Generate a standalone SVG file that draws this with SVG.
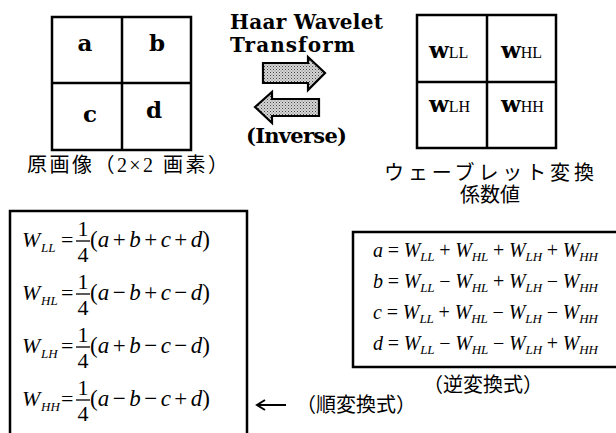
<svg xmlns="http://www.w3.org/2000/svg" width="616" height="433" viewBox="0 0 616 433">
<style>
.ln{fill:none;stroke:#000;stroke-width:2.5}
.cell{fill:#fff;stroke:#000;stroke-width:2.5}
.bd{font-family:"DejaVu Serif","Liberation Serif",serif;font-weight:bold;fill:#000}
.sm{font-family:"Liberation Serif",serif;font-size:16px;fill:#000}
.cj{font-family:"Liberation Serif","Noto Sans CJK JP",sans-serif;font-size:20px;fill:#000}
.m{font-family:"Liberation Serif",serif;font-size:22px;fill:#000}
.p{font-family:"Liberation Serif",serif;font-size:23px;fill:#000}
.r{font-family:"Liberation Serif",serif;font-size:20px;fill:#000}
.i{font-style:italic}
.sb{font-family:"Liberation Serif",serif;font-style:italic;font-size:13px}
.bar{stroke:#000;stroke-width:1.3}
.blk{fill:url(#dots);stroke:#000;stroke-width:2.2;stroke-linejoin:miter}
</style>
<defs>
<pattern id="dots" width="3" height="3" patternUnits="userSpaceOnUse">
<rect width="3" height="3" fill="#d6d6d6"/><rect width="1" height="1" fill="#444"/><rect x="1.5" y="1.5" width="1" height="1" fill="#777"/>
</pattern>
</defs>
<rect width="616" height="433" fill="#fff"/>

<g id="original-image">
<rect class="cell" x="52" y="17" width="139" height="133"/>
<line class="ln" x1="122" y1="17" x2="122" y2="150"/>
<line class="ln" x1="52" y1="83" x2="191" y2="83"/>
<text class="bd" font-size="23" x="85" y="51" text-anchor="middle">a</text>
<text class="bd" font-size="23" x="157" y="51" text-anchor="middle">b</text>
<text class="bd" font-size="23" x="90" y="122" text-anchor="middle">c</text>
<text class="bd" font-size="23" x="154" y="118" text-anchor="middle">d</text>
<text class="cj" x="27" y="172" textLength="201">原画像（2×2 画素）</text>
</g>

<g id="transform-label">
<text class="bd" font-size="20" x="230" y="29" textLength="153">Haar Wavelet</text>
<text class="bd" font-size="20" x="230" y="52" textLength="125">Transform</text>
<text class="bd" font-size="21" x="246" y="143" textLength="101">(Inverse)</text>
</g>

<g id="wavelet-coeffs">
<rect class="cell" x="417" y="15" width="139" height="133"/>
<line class="ln" x1="487" y1="15" x2="487" y2="148"/>
<line class="ln" x1="417" y1="82" x2="556" y2="82"/>
<text x="429" y="58"><tspan class="bd" font-size="23">w</tspan><tspan class="sm">LL</tspan></text>
<text x="501" y="58"><tspan class="bd" font-size="23">w</tspan><tspan class="sm">HL</tspan></text>
<text x="429" y="112"><tspan class="bd" font-size="23">w</tspan><tspan class="sm">LH</tspan></text>
<text x="501" y="112"><tspan class="bd" font-size="23">w</tspan><tspan class="sm">HH</tspan></text>
<text class="cj" x="384" y="180" textLength="210">ウェーブレット変換</text>
<text class="cj" x="490" y="202" text-anchor="middle">係数値</text>
</g>

<g id="forward-formulas">
<path class="ln" d="M10,433 V211 H247 V433"/>
<g transform="translate(0,247)">
<text class="m i" x="22" y="0">W</text><text class="sb" x="41" y="5">LL</text>
<text class="m" x="61" y="0">=</text>
<text class="m" x="83" y="-11" text-anchor="middle">1</text><line class="bar" x1="76" y1="-6" x2="90" y2="-6"/><text class="m" x="83" y="15" text-anchor="middle">4</text>
<text class="p" x="90" y="0">(<tspan class="i">a</tspan><tspan dx="3.5">+</tspan><tspan class="i" dx="3.5">b</tspan><tspan dx="3.5">+</tspan><tspan class="i" dx="3.5">c</tspan><tspan dx="3.5">+</tspan><tspan class="i" dx="3.5">d</tspan>)</text>
</g>
<g transform="translate(0,300)">
<text class="m i" x="22" y="0">W</text><text class="sb" x="41" y="5">HL</text>
<text class="m" x="61" y="0">=</text>
<text class="m" x="83" y="-11" text-anchor="middle">1</text><line class="bar" x1="76" y1="-6" x2="90" y2="-6"/><text class="m" x="83" y="15" text-anchor="middle">4</text>
<text class="p" x="90" y="0">(<tspan class="i">a</tspan><tspan dx="3.5">−</tspan><tspan class="i" dx="3.5">b</tspan><tspan dx="3.5">+</tspan><tspan class="i" dx="3.5">c</tspan><tspan dx="3.5">−</tspan><tspan class="i" dx="3.5">d</tspan>)</text>
</g>
<g transform="translate(0,353)">
<text class="m i" x="22" y="0">W</text><text class="sb" x="41" y="5">LH</text>
<text class="m" x="61" y="0">=</text>
<text class="m" x="83" y="-11" text-anchor="middle">1</text><line class="bar" x1="76" y1="-6" x2="90" y2="-6"/><text class="m" x="83" y="15" text-anchor="middle">4</text>
<text class="p" x="90" y="0">(<tspan class="i">a</tspan><tspan dx="3.5">+</tspan><tspan class="i" dx="3.5">b</tspan><tspan dx="3.5">−</tspan><tspan class="i" dx="3.5">c</tspan><tspan dx="3.5">−</tspan><tspan class="i" dx="3.5">d</tspan>)</text>
</g>
<g transform="translate(0,406)">
<text class="m i" x="22" y="0">W</text><text class="sb" x="41" y="5">HH</text>
<text class="m" x="61" y="0">=</text>
<text class="m" x="83" y="-11" text-anchor="middle">1</text><line class="bar" x1="76" y1="-6" x2="90" y2="-6"/><text class="m" x="83" y="15" text-anchor="middle">4</text>
<text class="p" x="90" y="0">(<tspan class="i">a</tspan><tspan dx="3.5">−</tspan><tspan class="i" dx="3.5">b</tspan><tspan dx="3.5">−</tspan><tspan class="i" dx="3.5">c</tspan><tspan dx="3.5">+</tspan><tspan class="i" dx="3.5">d</tspan>)</text>
</g>
<text class="cj" x="296" y="412" font-size="19">（順変換式）</text>
</g>

<g id="inverse-formulas">
<path class="ln" d="M617,232 H353 V367 H617"/>
<text class="r" x="373" y="257" textLength="225"><tspan class="i">a</tspan> = <tspan class="i">W</tspan><tspan class="sb" dy="4">LL</tspan><tspan dy="-4"> + </tspan><tspan class="i">W</tspan><tspan class="sb" dy="4">HL</tspan><tspan dy="-4"> + </tspan><tspan class="i">W</tspan><tspan class="sb" dy="4">LH</tspan><tspan dy="-4"> + </tspan><tspan class="i">W</tspan><tspan class="sb" dy="4">HH</tspan></text>
<text class="r" x="373" y="288" textLength="225"><tspan class="i">b</tspan> = <tspan class="i">W</tspan><tspan class="sb" dy="4">LL</tspan><tspan dy="-4"> − </tspan><tspan class="i">W</tspan><tspan class="sb" dy="4">HL</tspan><tspan dy="-4"> + </tspan><tspan class="i">W</tspan><tspan class="sb" dy="4">LH</tspan><tspan dy="-4"> − </tspan><tspan class="i">W</tspan><tspan class="sb" dy="4">HH</tspan></text>
<text class="r" x="373" y="319" textLength="225"><tspan class="i">c</tspan> = <tspan class="i">W</tspan><tspan class="sb" dy="4">LL</tspan><tspan dy="-4"> + </tspan><tspan class="i">W</tspan><tspan class="sb" dy="4">HL</tspan><tspan dy="-4"> − </tspan><tspan class="i">W</tspan><tspan class="sb" dy="4">LH</tspan><tspan dy="-4"> − </tspan><tspan class="i">W</tspan><tspan class="sb" dy="4">HH</tspan></text>
<text class="r" x="373" y="350" textLength="225"><tspan class="i">d</tspan> = <tspan class="i">W</tspan><tspan class="sb" dy="4">LL</tspan><tspan dy="-4"> − </tspan><tspan class="i">W</tspan><tspan class="sb" dy="4">HL</tspan><tspan dy="-4"> − </tspan><tspan class="i">W</tspan><tspan class="sb" dy="4">LH</tspan><tspan dy="-4"> + </tspan><tspan class="i">W</tspan><tspan class="sb" dy="4">HH</tspan></text>
<text class="cj" x="423" y="392" font-size="19">（逆変換式）</text>
</g>

<g id="connectors">
<polygon class="blk" points="263,63 308,63 308,57 325,73 308,90 308,83 263,83"/>
<polygon class="blk" points="255,107 272,92 272,99 319,99 319,116 272,116 272,123"/>
<path d="M286,405 H258 M265,400 L257,405 L265,410" fill="none" stroke="#000" stroke-width="2"/>
</g>
</svg>
